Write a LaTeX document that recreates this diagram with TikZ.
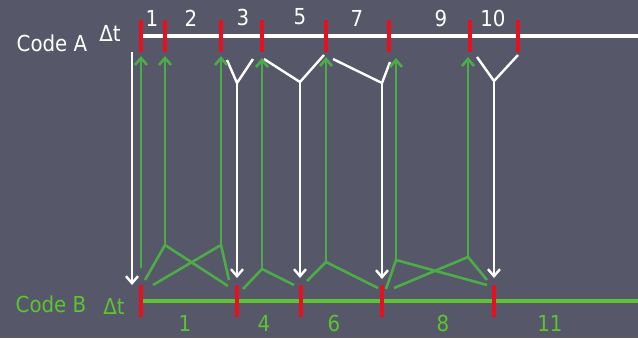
\documentclass[tikz,border=0pt]{standalone}
\usepackage{fontspec}
\setmainfont{DejaVu Sans Condensed}
\usetikzlibrary{arrows.meta}
\definecolor{bg}{RGB}{86,87,104}
\definecolor{tickred}{RGB}{232,16,30}
\definecolor{agreen}{RGB}{76,172,72}
\definecolor{lgreen}{RGB}{92,196,48}
\tikzset{
  tick/.style={draw=tickred,line width=4.8pt},
  wline/.style={draw=white,line width=3.4pt},
  gline/.style={draw=lgreen,line width=3.4pt},
  warr/.style={draw=white,line width=2.4pt,-{Straight Barb[length=7pt,width=12pt,line width=2.4pt]}},
  wleg/.style={draw=white,line width=2.4pt},
  garr/.style={draw=agreen,line width=2.6pt,-{Straight Barb[length=7pt,width=12pt,line width=2.6pt]}},
  gleg/.style={draw=agreen,line width=2.6pt},
  lbl/.style={text=white,font=\fontsize{22}{24}\selectfont,inner sep=0pt},
  glbl/.style={text=lgreen,font=\fontsize{22}{24}\selectfont,inner sep=0pt},
}
\begin{document}
\begin{tikzpicture}[x=1pt,y=-1pt]
\fill[bg] (0,0) rectangle (638,338);
\useasboundingbox (0,0) rectangle (638,338);
% axes
\coordinate (a0) at (141,36); \coordinate (aend) at (638,36);
\coordinate (b0) at (141,301); \coordinate (bend) at (638,301);
\draw[wline] (a0) -- (aend);
\draw[gline] (b0) -- (bend);
% top ticks
\foreach \x in {141,165,221,262,326,389,470,518}
  \draw[tick] (\x,20) -- (\x,52);
% bottom ticks
\foreach \x in {141,237,301,382,494}
  \draw[tick] (\x,285) -- (\x,317);
% labels
\node[lbl] (ca) at (52,43) {Code A};
\node[lbl] (dta) at (110,33) {Δt};
\node[glbl] (cb) at (51,304) {Code B};
\node[glbl] (dtb) at (114,306) {Δt};
\node[lbl] (n1) at (152,18) {1};
\node[lbl] (n2) at (191,18) {2};
\node[lbl] (n3) at (243,17) {3};
\node[lbl] (n5) at (300,17) {5};
\node[lbl] (n7) at (357,18) {7};
\node[lbl] (n9) at (441,18) {9};
\node[lbl] (n10) at (493,18) {10};
\node[glbl] (m1) at (185,323) {1};
\node[glbl] (m4) at (264,323) {4};
\node[glbl] (m6) at (334,323) {6};
\node[glbl] (m8) at (443,323) {8};
\node[glbl] (m11) at (550,323) {11};
% white arrows (A -> B)
\coordinate (w1s) at (132,52); \coordinate (w1e) at (132,285);
\draw[warr] (w1s) -- (w1e);
\coordinate (j3) at (237,83); \coordinate (j3l) at (227,60); \coordinate (j3r) at (253,59); \coordinate (j3e) at (237,278);
\draw[wleg] (j3l) -- (j3) -- (j3r);
\draw[warr] (j3) -- (j3e);
\coordinate (j5) at (300,82); \coordinate (j5l) at (264,59); \coordinate (j5r) at (324,55); \coordinate (j5e) at (300,278);
\draw[wleg] (j5l) -- (j5) -- (j5r);
\draw[warr] (j5) -- (j5e);
\coordinate (j7) at (382,83); \coordinate (j7l) at (333,59); \coordinate (j7r) at (390,62); \coordinate (j7e) at (382,279);
\draw[wleg] (j7l) -- (j7) -- (j7r);
\draw[warr] (j7) -- (j7e);
\coordinate (j10) at (494,81); \coordinate (j10l) at (477,57); \coordinate (j10r) at (518,55); \coordinate (j10e) at (494,278);
\draw[wleg] (j10l) -- (j10) -- (j10r);
\draw[warr] (j10) -- (j10e);
% green arrows (B -> A)
\coordinate (g1s) at (141,268); \coordinate (g1e) at (141,56);
\draw[garr] (g1s) -- (g1e);
\coordinate (g2) at (165,245); \coordinate (g2l) at (145,280); \coordinate (g2r) at (228,286); \coordinate (g2e) at (165,56);
\draw[gleg] (g2l) -- (g2) -- (g2r);
\draw[garr] (g2) -- (g2e);
\coordinate (g3) at (221,245); \coordinate (g3l) at (153,285); \coordinate (g3r) at (229,280); \coordinate (g3e) at (221,56);
\draw[gleg] (g3l) -- (g3) -- (g3r);
\draw[garr] (g3) -- (g3e);
\coordinate (g4) at (262,269); \coordinate (g4l) at (243,289); \coordinate (g4r) at (294,285); \coordinate (g4e) at (262,58);
\draw[gleg] (g4l) -- (g4) -- (g4r);
\draw[garr] (g4) -- (g4e);
\coordinate (g5) at (326,262); \coordinate (g5l) at (307,281); \coordinate (g5r) at (378,288); \coordinate (g5e) at (326,57);
\draw[gleg] (g5l) -- (g5) -- (g5r);
\draw[garr] (g5) -- (g5e);
\coordinate (g6) at (396,260); \coordinate (g6l) at (386,289); \coordinate (g6r) at (487,285); \coordinate (g6e) at (396,58);
\draw[gleg] (g6l) -- (g6) -- (g6r);
\draw[garr] (g6) -- (g6e);
\coordinate (g7) at (468,257); \coordinate (g7l) at (394,288); \coordinate (g7r) at (487,280); \coordinate (g7e) at (468,57);
\draw[gleg] (g7l) -- (g7) -- (g7r);
\draw[garr] (g7) -- (g7e);
\end{tikzpicture}
\end{document}
